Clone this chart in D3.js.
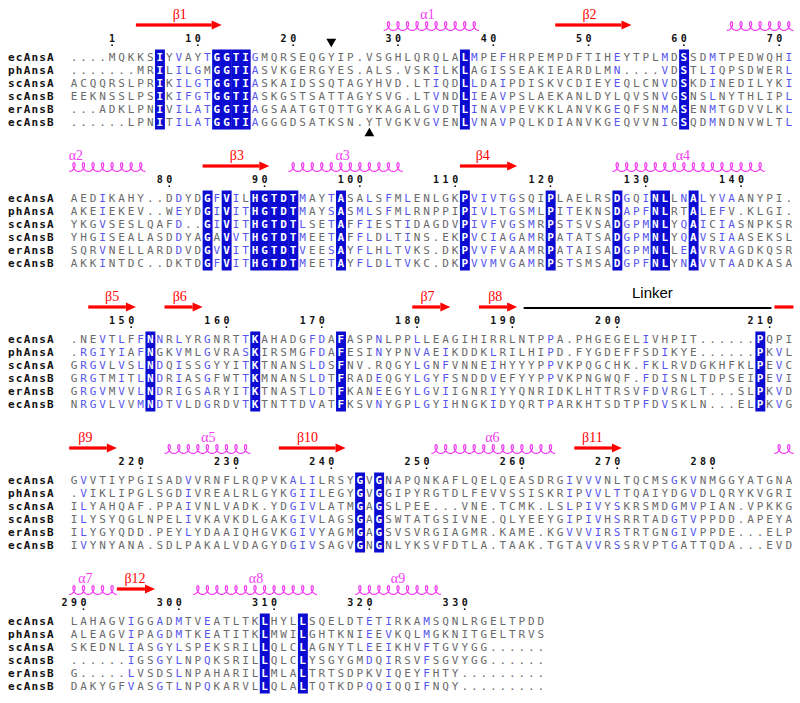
<!DOCTYPE html>
<html><head><meta charset="utf-8">
<script src="https://cdn.jsdelivr.net/npm/d3@7"></script>
<style>body{margin:0;background:#fff}svg{display:block}</style>
</head><body>
<svg id="c" width="800" height="703"></svg>
<script>
const names = ["ecAnsA","phAnsA","scAnsA","scAnsB","erAnsB","ecAnsB"];

const block1 = [
"....MQKKSIYVAYTGGTIGMQRSEQGYIP.VSGHLQRQLALMPEFHRPEMPDFTIHEYTPLMDSSDMTPEDWQHI",
".......MRILILGMGGTIASVKGERGYES.ALS.VSKILKLAGISSEAKIEARDLMN....VDSTLIQPSDWERL",
"ACQQRSLPRIKILGTGGTIASKAIDSSQTAGYHVD.LTIQDLLDAIPDISKVCDIEYEQLCNVDSKDINEDILYKI",
"EEKNSSLPSIKIFGTGGTIASKGSTSATTAGYSVG.LTVNDLIEAVPSLAEKANLDYLQVSNVGSNSLNYTHLIPL",
"...ADKLPNIVILATGGTIAGSAATGTQTTGYKAGALGVDTLINAVPEVKKLANVKGEQFSNMASENMTGDVVLKL",
"......LPNITILATGGTIAGGGDSATKSN.YTVGKVGVENLVNAVPQLKDIANVKGEQVVNIGSQDMNDNVWLTL"];
const block2 = [
"AEDIKAHY..DDYDGFVILHGTDTMAYTASALSFMLENLGKPVIVTGSQIPLAELRSDGQINLLNALYVAANYPI.",
"AKEIEKEV..WEYDGIVITHGTDTMAYSASMLSFMLRNPPIPIVLTGSMLPITEKNSDAPFNLRTALEFV.KLGI.",
"YKGVSESLQAFD..GIVITHGTDTLSETAFFIESTIDAGDVPIVFVGSMRPSTSVSADGPMNLYQAICIASNPKSR",
"YHGISEALASDDYAGAVVTHGTDTMEETAFFLDLTINS.EKPVCIAGAMRPATATSADGPMNLYQAVSIAASEKSL",
"SQRVNELLARDDVDGVVITHGTDTVEESAYFLHLTVKS.DKPVVFVAAMRPATAISADGPMNLLEAVRVAGDKQSR",
"AKKINTDC..DKTDGFVITHGTDTMEETAYFLDLTVKC.DKPVVMVGAMRPSTSMSADGPFNLYNAVVTAADKASA"];
const block3 = [
".NEVTLFFNNRLYRGNRTTKAHADGFDAFASPNLPPLLEAGIHIRRLNTPPA.PHGEGELIVHPIT......PQPI",
".RGIYIAFNGKVMLGVRASKIRSMGFDAFESINYPNVAEIKDDKLRILHIPD.FYGDEFFSDIKYE......PKVL",
"GRGVLVSLNDQISSGYYITKTNANSLDSFNV.RQGYLGNFVNNEIHYYYPPVKPQGCHK.FKLRVDGKHFKLPEVC",
"GRGTMITLNDRIASGFWTTKMNANSLDTFRADEQGYLGYFSNDDVEFYYPPVKPNGWQF.FDISNLTDPSEIPEVI",
"GRGVMVVLNDRIGSARYITKTNASTLDTFKANEEGYLGVIIGNRIYYQNRIDKLHTTRSVFDVRGLT...SLPKVD",
"NRGVLVVMNDTVLDGRDVTKTNTTDVATFKSVNYGPLGYIHNGKIDYQRTPARKHTSDTPFDVSKLN...ELPKVG"];
const block4 = [
"GVVTIYPGISADVVRNFLRQPVKALILRSYGVGNAPQNKAFLQELQEASDRGIVVVNLTQCMSGKVNMGGYATGNA",
".VIKLIPGLSGDIVREALRLGYKGIILEGYGVGGIPYRGTDLFEVVSSISKRIPVVLTTQAIYDGVDLQRYKVGRI",
"ILYAHQAF.PPAIVNLVADK.YDGIVLATMGAGSLPEE...VNE.TCMK.LSLPIVYSKRSMDGMVPIAN.VPKKG",
"ILYSYQGLNPELIVKAVKDLGAKGIVLAGSGAGSWTATGSIVNE.QLYEEYGIPIVHSRRTADGTVPPDD.APEYA",
"ILYGYQDD.PEYLYDAAIQHGVKGIVYAGMGAGSVSVRGIAGMR.KAME.KGVVVIRSTRTGNGIVPPDE...ELP",
"IVYNYANA.SDLPAKALVDAGYDGIVSAGVGNGNLYKSVFDTLA.TAAK.TGTAVVRSSRVPTGATTQDA...EVD"];
const block5 = [
"LAHAGVIGGADMTVEATLTKLHYLLSQELDTETIRKAMSQNLRGELTPDD",
"ALEAGVIPAGDMTKEATITKLMWILGHTKNIEEVKQLMGKNITGELTRVS",
"SKEDNLIASGYLSPEKSRILLQLCLAGNYTLEEIKHVFTGVYGG......",
"......IGSGYLNPQKSRILLQLCLYSGYGMDQIRSVFSGVYGG......",
"G.....LVSDSLNPAHARILLMLALTRTSDPKVIQEYFHTY.........",
"DAKYGFVASGTLNPQKARVLLQLALTQTKDPQQIQQIFNQY........."];
const blocks = [block1, block2, block3, block4, block5];

// secondary structure elements: block, type (E strand, H helix, L linker, e strand w/o head), label, start col, end col, label col
const secondary = [
  {b:0,t:"E",label:"β1",s:7,e:15,lc:11.1},
  {b:0,t:"H",label:"α1",s:33,e:42,lc:37.1},
  {b:0,t:"E",label:"β2",s:51,e:58,lc:54.1},
  {b:0,t:"H",label:"",s:69,e:75},
  {b:1,t:"H",label:"α2",s:0,e:7,lc:"start"},
  {b:1,t:"E",label:"β3",s:14,e:20,lc:17.1},
  {b:1,t:"H",label:"α3",s:23,e:34,lc:28.2},
  {b:1,t:"E",label:"β4",s:41,e:46,lc:42.9},
  {b:1,t:"H",label:"α4",s:57,e:72,lc:63.9},
  {b:2,t:"E",label:"β5",s:2,e:6,lc:4},
  {b:2,t:"E",label:"β6",s:10,e:13,lc:11.1},
  {b:2,t:"E",label:"β7",s:36,e:39,lc:37.1},
  {b:2,t:"E",label:"β8",s:43,e:46,lc:44.2},
  {b:2,t:"L",label:"Linker",s:48,e:73,lc:60.7},
  {b:2,t:"e",label:"",s:74,e:75},
  {b:3,t:"E",label:"β9",s:0,e:4,lc:1.2},
  {b:3,t:"H",label:"α5",s:10,e:18,lc:14.1},
  {b:3,t:"E",label:"β10",s:22,e:28,lc:24.5},
  {b:3,t:"H",label:"α6",s:38,e:50,lc:43.9},
  {b:3,t:"E",label:"β11",s:53,e:57,lc:54.4},
  {b:3,t:"H",label:"",s:74,e:75},
  {b:4,t:"H",label:"α7",s:0,e:4,lc:1.2},
  {b:4,t:"E",label:"β12",s:5,e:8,lc:6.4},
  {b:4,t:"H",label:"α8",s:13,e:25,lc:19.1},
  {b:4,t:"H",label:"α9",s:30,e:38,lc:34}
];
const markers = [{b:0,col:27,pos:"top"},{b:0,col:31,pos:"bottom"}];
const simGroups = ["ILMVF","FYWH","KR","DENQ","ST","AG","P"];

const C = {gray:"#6a6a6a", blue:"#5656ee", box:"#0b0bd2", red:"#ff0000", mag:"#f23cf2"};
const MONO = "DejaVu Sans Mono, Liberation Mono, monospace";
const nCols = 76, colW = 9.53, xLeft = 69.2;
const x = d3.scaleBand().domain(d3.range(nCols)).range([xLeft, xLeft + nCols*colW]);
const cx = c => xLeft + (c + 0.5) * colW;
const blockY = d3.scaleLinear().domain([0, 4]).range([57, 621]);
const rowY = d3.scalePoint().domain(names).range([0, 65]);

const svg = d3.select("#c");
svg.append("rect").attr("width",800).attr("height",703).attr("fill","#fff");

function classify(chars){
  if (chars.every(ch => ch !== "." && ch === chars[0])) return {ident:true};
  let best = null, bestN = 0;
  for (const g of simGroups){
    const n = chars.filter(ch => g.includes(ch)).length;
    if (n > bestN){ bestN = n; best = g; }
  }
  return {ident:false, group: bestN >= 5 ? best : null};
}

function helixPoints(xa, xb, yc){
  const n = Math.max(1, Math.round((xb - xa) / colW));
  const a = (xb - xa) / (2 * Math.PI * n), bb = 3.1, h = 4.4;
  const pts = [], N = n * 28;
  for (let i = 0; i <= N; i++){
    const s = i / N * 2 * Math.PI * n;
    pts.push([xa + a * s + bb * Math.sin(s), yc + h * Math.cos(s)]);
  }
  return pts;
}

let resNo = 0;
blocks.forEach((seqs, b) => {
  const g = svg.append("g").attr("transform", `translate(0,${blockY(b)})`);
  const len = seqs[0].length;
  const cols = d3.range(len).map(c => seqs.map(s => s[c]));
  const cls = cols.map(classify);

  // identity boxes
  g.selectAll("rect.box").data(d3.range(len).filter(c => cls[c].ident)).join("rect")
    .attr("x", c => x(c)).attr("y", -7.5).attr("width", x.bandwidth() + 0.4).attr("height", 80)
    .attr("fill", C.box);

  // names
  g.selectAll("text.name").data(names).join("text")
    .attr("x", 8).attr("y", d => rowY(d) + 4)
    .attr("font-family", MONO).attr("font-weight", "bold").attr("letter-spacing", 1.2)
    .attr("font-size", 11).attr("fill", "#111").text(d => d);

  // residues
  const cells = [];
  seqs.forEach((s, r) => { for (let c = 0; c < s.length; c++) cells.push({r, c, ch: s[c]}); });
  g.selectAll("text.res").data(cells).join("text")
    .attr("x", d => x(d.c) + x.bandwidth() / 2).attr("y", d => rowY(names[d.r]) + 4)
    .attr("text-anchor", "middle")
    .attr("font-family", MONO).attr("font-size", 11)
    .attr("font-weight", d => cls[d.c].ident ? "bold" : "normal")
    .attr("fill", d => cls[d.c].ident ? "#fff" : (cls[d.c].group && cls[d.c].group.includes(d.ch) ? C.blue : C.gray))
    .text(d => d.ch);

  // numbering by first sequence
  const nums = [];
  for (let c = 0; c < len; c++){
    if (seqs[0][c] !== "."){
      resNo++;
      if (resNo === 1 || resNo % 10 === 0) nums.push({c, n: resNo});
    }
  }
  nums.forEach(d => {
    const digits = String(d.n).split("");
    digits.forEach((dg, i) => {
      g.append("text").attr("x", cx(d.c - (digits.length - 1 - i))).attr("y", -15)
        .attr("text-anchor", "middle").attr("font-family", MONO)
        .attr("font-weight", "bold").attr("font-size", 10).attr("fill", "#111").text(dg);
    });
    g.append("circle").attr("cx", cx(d.c)).attr("cy", -11.8).attr("r", 0.9).attr("fill", "#111");
  });

  // secondary structure
  secondary.filter(d => d.b === b).forEach(d => {
    const xa = x(d.s), xb = x(d.e) + x.bandwidth();
    if (d.t === "E" || d.t === "e"){
      const yA = -32, head = d.t === "E" ? 10 : 0;
      g.append("rect").attr("x", xa).attr("y", yA - 1.6).attr("width", xb - xa - head).attr("height", 3.2).attr("fill", C.red);
      if (head){
        const p = d3.path();
        p.moveTo(xb - head, yA - 4.6); p.lineTo(xb, yA); p.lineTo(xb - head, yA + 4.6); p.closePath();
        g.append("path").attr("d", p.toString()).attr("fill", C.red);
      }
    } else if (d.t === "H"){
      g.append("path").attr("d", d3.line()(helixPoints(xa, xb, -31)))
        .attr("fill", "none").attr("stroke", C.mag).attr("stroke-width", 1.2);
    } else if (d.t === "L"){
      g.append("line").attr("x1", xa - 3).attr("x2", xb - 3).attr("y1", -31).attr("y2", -31)
        .attr("stroke", "#000").attr("stroke-width", 2.2);
    }
    if (d.label){
      const t = g.append("text");
      if (d.lc === "start") t.attr("x", xa - 0.5).attr("text-anchor", "start");
      else t.attr("x", cx(d.lc)).attr("text-anchor", "middle");
      if (d.t === "L"){
        t.attr("y", -40.8).attr("font-family", "Liberation Sans, Arial, sans-serif").attr("font-size", 15).attr("fill", "#000");
      } else {
        t.attr("y", -38).attr("font-family", "Liberation Serif, Times New Roman, serif").attr("font-size", 14)
         .attr("fill", d.t === "H" ? C.mag : C.red);
      }
      t.text(d.label);
    }
  });

  // markers
  markers.filter(m => m.b === b).forEach(m => {
    const sym = d3.symbol(d3.symbolTriangle, 42);
    g.append("path").attr("d", sym())
      .attr("transform", m.pos === "top" ? `translate(${cx(m.col)},-15.5) rotate(180)` : `translate(${cx(m.col)},76.5)`)
      .attr("fill", "#000");
  });
});
</script>
</body></html>
